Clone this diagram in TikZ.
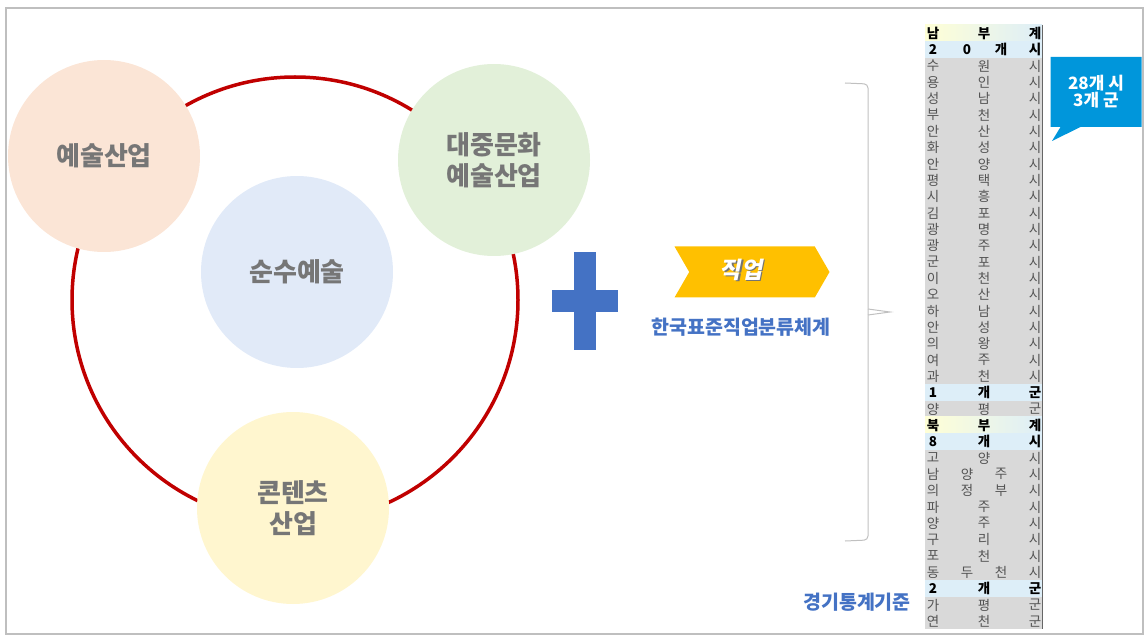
\documentclass[tikz,border=0pt]{standalone}
\usepackage{fontspec}
\setmainfont{Noto Sans CJK KR}
\newfontfamily\krslant{Noto Sans CJK KR}[FakeSlant=0.2]
\usetikzlibrary{positioning,shapes.symbols,shapes.callouts}
\definecolor{ringred}{RGB}{192,0,0}
\definecolor{peach}{RGB}{251,229,214}
\definecolor{mint}{RGB}{226,240,217}
\definecolor{skyish}{RGB}{225,234,248}
\definecolor{cream}{RGB}{255,246,207}
\definecolor{labelgray}{RGB}{118,118,118}
\definecolor{plusblue}{RGB}{68,114,196}
\definecolor{jobyellow}{RGB}{255,192,0}
\definecolor{calloutblue}{RGB}{0,150,219}
\definecolor{cellgray}{RGB}{217,217,217}
\definecolor{cellblue}{RGB}{221,238,248}
\definecolor{cellyellow}{RGB}{255,255,214}
\definecolor{cellname}{RGB}{84,84,84}
\definecolor{framegray}{RGB}{191,191,191}
\definecolor{bracegray}{RGB}{192,192,192}
\tikzset{
    % industry circles
    field/.style={
        circle, minimum size=192pt, inner sep=0pt, align=center,
        text=labelgray, font=\bfseries\fontsize{26}{31}\selectfont
    },
    % plus sign bars
    plusbar/.style={rectangle, fill=plusblue, inner sep=0pt},
    % blue captions
    caption/.style={text=plusblue, font=\bfseries\fontsize{19.5}{21}\selectfont},
    % table rows
    rowhdr/.style={left color=cellyellow, right color=cellblue},
    rowblu/.style={fill=cellblue},
    rowgry/.style={fill=cellgray},
    txthdr/.style={text=black, font=\bfseries\fontsize{13.5}{14}\selectfont},
    txtgry/.style={text=cellname, font=\fontsize{13.5}{14}\selectfont},
    cell/.style={inner sep=0pt, anchor=center},
}
\begin{document}
\begin{tikzpicture}[x=1pt,y=-1pt]
  \useasboundingbox (0,0) rectangle (1146,636);
  \draw[framegray, line width=1.5pt] (6,8) rectangle (1143,634);

  % ring behind the four circles
  \coordinate (ringc) at (295,300);
  \draw[ringred, line width=3.5pt] (ringc) circle [radius=223pt];
  \node[field, fill=peach] (art) at (104,156) {예술산업};
  \node[field, fill=mint] (pop) at (494,160) {대중문화\\예술산업};
  \node[field, fill=skyish] (pure) at (297,272) {순수예술};
  \node[field, fill=cream] (cont) at (293,508) {콘텐츠\\산업};

  % plus
  \node[plusbar, minimum width=22pt, minimum height=98pt] (plusv) at (585,301) {};
  \node[plusbar, minimum width=66pt, minimum height=22pt] (plush) at (585,301) {};

  % job arrow
  \node[signal, signal to=east, signal from=west, signal pointer angle=120,
        fill=jobyellow, minimum width=155pt, minimum height=51pt] (job) at (752,272) {};
  \node[text=black!55, font=\krslant\bfseries\fontsize{23}{25}\selectfont]
        (jobsh) at (742.2,271.2) {직업};
  \node[text=white, font=\krslant\bfseries\fontsize{23}{25}\selectfont]
        (jobtxt) at (741,270) {직업};
  \node[caption] (ksco) at (741,327) {한국표준직업분류체계};

  % brace
  \draw[bracegray, line width=1pt, rounded corners=4pt]
        (845,83) -- (868,84) -- (868,540) -- (845,541);
  \draw[bracegray, line width=1pt] (868,309) -- (890,312) -- (868,315);

  % table of cities
  \foreach \r/\rs/\ts/\n/\txt in {
      1/rowhdr/txthdr/3/{남,부,계}, 2/rowblu/txthdr/4/{2,0,개,시},
      3/rowgry/txtgry/3/{수,원,시}, 4/rowgry/txtgry/3/{용,인,시},
      5/rowgry/txtgry/3/{성,남,시}, 6/rowgry/txtgry/3/{부,천,시},
      7/rowgry/txtgry/3/{안,산,시}, 8/rowgry/txtgry/3/{화,성,시},
      9/rowgry/txtgry/3/{안,양,시}, 10/rowgry/txtgry/3/{평,택,시},
      11/rowgry/txtgry/3/{시,흥,시}, 12/rowgry/txtgry/3/{김,포,시},
      13/rowgry/txtgry/3/{광,명,시}, 14/rowgry/txtgry/3/{광,주,시},
      15/rowgry/txtgry/3/{군,포,시}, 16/rowgry/txtgry/3/{이,천,시},
      17/rowgry/txtgry/3/{오,산,시}, 18/rowgry/txtgry/3/{하,남,시},
      19/rowgry/txtgry/3/{안,성,시}, 20/rowgry/txtgry/3/{의,왕,시},
      21/rowgry/txtgry/3/{여,주,시}, 22/rowgry/txtgry/3/{과,천,시},
      23/rowblu/txthdr/3/{1,개,군}, 24/rowgry/txtgry/3/{양,평,군},
      25/rowhdr/txthdr/3/{북,부,계}, 26/rowblu/txthdr/3/{8,개,시},
      27/rowgry/txtgry/3/{고,양,시}, 28/rowgry/txtgry/4/{남,양,주,시},
      29/rowgry/txtgry/4/{의,정,부,시}, 30/rowgry/txtgry/3/{파,주,시},
      31/rowgry/txtgry/3/{양,주,시}, 32/rowgry/txtgry/3/{구,리,시},
      33/rowgry/txtgry/3/{포,천,시}, 34/rowgry/txtgry/4/{동,두,천,시},
      35/rowblu/txthdr/3/{2,개,군}, 36/rowgry/txtgry/3/{가,평,군},
      37/rowgry/txtgry/3/{연,천,군}} {
    \pgfmathsetmacro\ytop{25+(\r-1)*16.33}
    \fill[\rs] (925,\ytop) rectangle (1042,\ytop+16.33);
    \foreach \ch [count=\k] in \txt {
      \node[cell, \ts] (c\r-\k) at ({933+(\k-1)*102/(\n-1)},\ytop+8.4) {\ch};
    }
  }
  \draw[black!60, line width=1pt] (1042,25) -- (1042,629);
  \node[caption] (gg) at (857,602) {경기통계기준};

  % callout
  \node[rectangle callout, fill=calloutblue, text=white, align=center,
        minimum width=91pt, minimum height=70pt, inner sep=2pt,
        callout pointer width=20pt, callout absolute pointer={(1052,141)},
        font=\bfseries\fontsize{17}{17}\selectfont] (tally) at (1096,92) {28개 시\\3개 군};
\end{tikzpicture}
\end{document}
